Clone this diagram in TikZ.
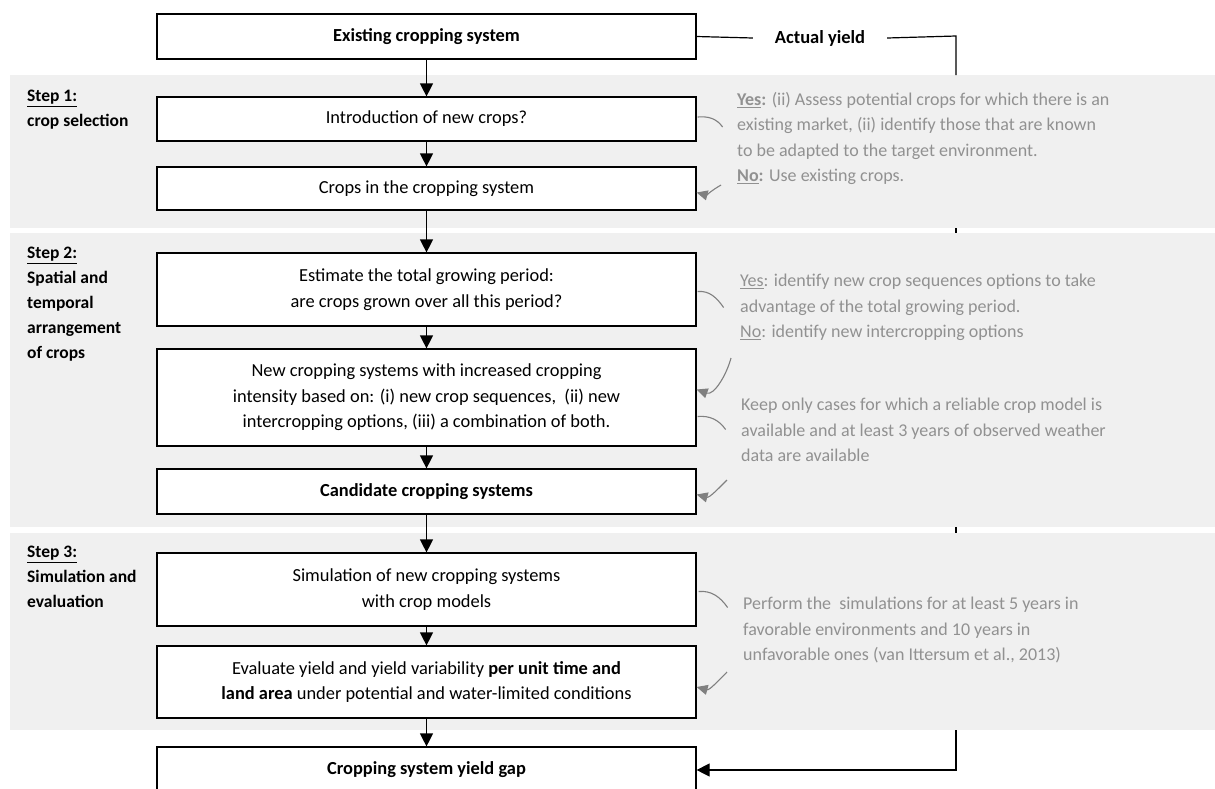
\documentclass[tikz,border=0pt]{standalone}
\usepackage{fontspec}
\setmainfont{Carlito}
\usetikzlibrary{arrows.meta}
\definecolor{bandgrey}{RGB}{240,240,240}
\definecolor{notegrey}{RGB}{145,145,145}
\definecolor{curvegrey}{RGB}{128,128,128}
\tikzset{
  box/.style={draw=black, line width=1.2pt, fill=white, minimum width=539pt, inner sep=0pt, align=center, font=\fontsize{18.4}{25.5}\selectfont},
  band/.style={fill=bandgrey, draw=none},
  flow/.style={line width=1.2pt, -{Triangle[length=13pt,width=13pt]}},
  steplabel/.style={anchor=north west, align=left, inner sep=0pt, font=\fontsize{17.5}{25}\selectfont\bfseries},
  note/.style={anchor=north west, align=left, inner sep=0pt, text=notegrey, font=\fontsize{18}{25.5}\selectfont},
  hook/.style={draw=curvegrey, line width=1.1pt},
  hookarrow/.style={draw=curvegrey, line width=1.1pt, -{Triangle[length=11pt,width=10pt]}, curvegrey}
}
\begin{document}
\begin{tikzpicture}[x=1pt,y=-1pt]
\clip (0,0) rectangle (1215,788);
\useasboundingbox (0,0) rectangle (1215,788);
\fill[white] (0,0) rectangle (1215,788);

% actual yield label and corner points
\node[font=\fontsize{18.5}{20}\selectfont\bfseries, minimum width=134pt, inner sep=0pt] (ay) at (820,38) {Actual yield};
\coordinate (c1) at (956,36);
\coordinate (c2) at (956,770);

% bands
\path[band] (10,75) rectangle (1215,228);
\path[band] (10,233) rectangle (1215,527);
\path[band] (10,533) rectangle (1215,730);

% boxes
\node[box, minimum height=45pt] (b1) at (426.5,36.5) {\textbf{Existing cropping system}};
\node[box, minimum height=44pt] (b2) at (426.5,119) {Introduction of new crops?};
\node[box, minimum height=43pt] (b3) at (426.5,188.5) {Crops in the cropping system};
\node[box, minimum height=73pt] (b4) at (426.5,289.5) {Estimate the total growing period:\\are crops grown over all this period?};
\node[box, minimum height=97pt] (b5) at (426.5,397.5) {New cropping systems with increased cropping\\intensity based on: (i) new crop sequences,\ \ (ii) new\\intercropping options, (iii) a combination of both.};
\node[box, minimum height=45pt] (b6) at (426.5,491.5) {\textbf{Candidate cropping systems}};
\node[box, minimum height=73pt] (b7) at (426.5,589.5) {Simulation of new cropping systems\\with crop models};
\node[box, minimum height=72pt] (b8) at (426.5,682) {Evaluate yield and yield variability \textbf{per unit time and}\\\textbf{land area} under potential and water-limited conditions};
\node[box, minimum height=46pt] (b9) at (426.5,770) {\textbf{Cropping system yield gap}};

% actual yield path
\draw[line width=1.2pt] (b1.east) -- (ay.west);
\draw[line width=1.2pt] (ay.east) -- (c1) -- (956,75);
\draw[line width=1.2pt] (956,228) -- (956,233);
\draw[line width=1.2pt] (956,527) -- (956,533);
\draw[flow] (956,730) -- (c2) -- (b9.east);

% flow arrows
\draw[flow] (b1) -- (b2);
\draw[flow] (b2) -- (b3);
\draw[flow] (b3) -- (b4);
\draw[flow] (b4) -- (b5);
\draw[flow] (b5) -- (b6);
\draw[flow] (b6) -- (b7);
\draw[flow] (b7) -- (b8);
\draw[flow] (b8) -- (b9);

% step labels
\node[steplabel] (s1) at (27,90) {\underline{Step 1:}\\crop selection};
\node[steplabel] (s2) at (27,247) {\underline{Step 2:}\\Spatial and\\temporal\\arrangement\\of crops};
\node[steplabel] (s3) at (27,546) {\underline{Step 3:}\\Simulation and\\evaluation};

% notes
\node[note] (n1) at (737,92) {\textbf{\underline{Yes}:} (ii) Assess potential crops for which there is an\\existing market, (ii) identify those that are known\\to be adapted to the target environment.\\\textbf{\underline{No}:} Use existing crops.};
\node[note] (n2) at (740,274) {\underline{Yes}: identify new crop sequences options to take\\advantage of the total growing period.\\\underline{No}: identify new intercropping options};
\node[note] (n3) at (741,398) {Keep only cases for which a reliable crop model is\\available and at least 3 years of observed weather\\data are available};
\node[note] (n4) at (743,597) {Perform the\ \ simulations for at least 5 years in\\favorable environments and 10 years in\\unfavorable ones (van Ittersum et al., 2013)};

% grey hooks and arrows
\draw[hook] ([xshift=1pt,yshift=2pt]b2.east) to[out=5,in=125] ++(25,10);
\draw[hookarrow] (721,185) to[out=-150,in=-15] ([yshift=-4pt]b3.east);
\draw[hook] ([xshift=1pt,yshift=-2pt]b4.east) to[out=5,in=125] ++(26,16);
\draw[hookarrow] (731,358) to[out=-105,in=-20] ([yshift=8pt]b5.east);
\draw[hook] ([xshift=1pt,yshift=-19pt]b5.east) to[out=5,in=125] ++(28,13);
\draw[hookarrow] (727,480) to[out=-135,in=-15] ([yshift=-3pt]b6.east);
\draw[hook] ([xshift=2pt,yshift=-2pt]b7.east) to[out=5,in=125] ++(29,16);
\draw[hookarrow] (727,672) to[out=-135,in=-15] ([yshift=-5pt]b8.east);
\end{tikzpicture}
\end{document}
